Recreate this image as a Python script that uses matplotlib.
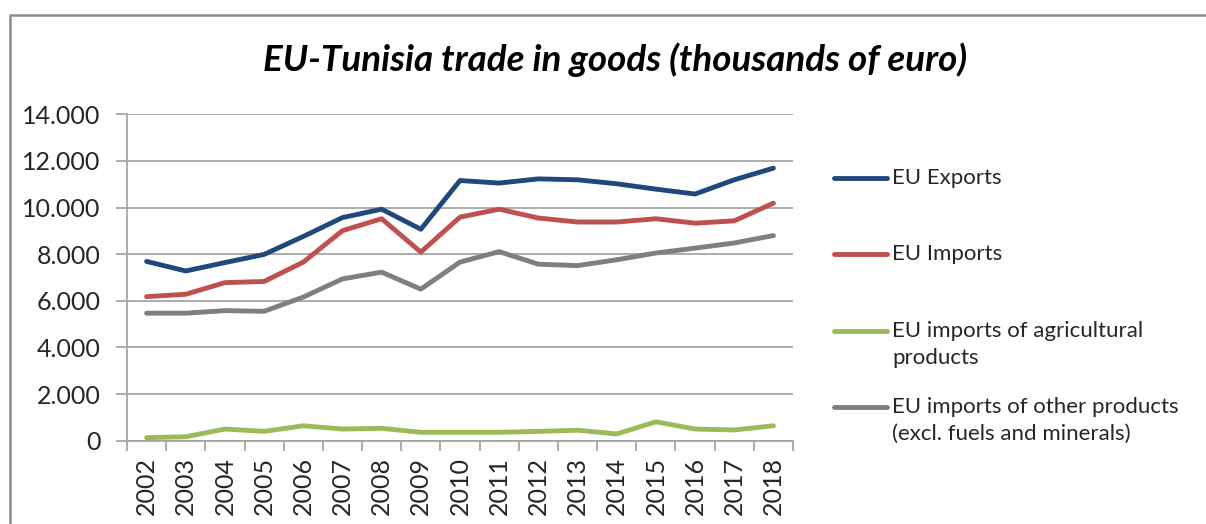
import matplotlib
matplotlib.use("Agg")
import matplotlib.pyplot as plt
from matplotlib.lines import Line2D
import numpy as np

years = [str(y) for y in range(2002, 2019)]
eu_exports = [7690, 7280, 7640, 7990, 8760, 9570, 9930, 9070, 11160, 11050, 11230, 11190, 11020, 10790, 10580, 11190, 11690]
eu_imports = [6180, 6280, 6780, 6830, 7660, 9010, 9520, 8090, 9590, 9930, 9550, 9380, 9380, 9520, 9330, 9430, 10190]
eu_imports_agri = [130, 170, 500, 400, 640, 500, 530, 360, 360, 360, 400, 450, 290, 810, 500, 460, 640]
eu_imports_other = [5470, 5470, 5580, 5550, 6160, 6940, 7230, 6500, 7660, 8110, 7570, 7510, 7760, 8050, 8260, 8480, 8800]

series_labels = ["EU Exports", "EU Imports",
                 "EU imports of agricultural\nproducts",
                 "EU imports of other products\n(excl. fuels and minerals)"]
series_colors = ["#1F497D", "#C0504D", "#9BBB59", "#7F7F7F"]

yticks = [0, 2000, 4000, 6000, 8000, 10000, 12000, 14000]
ytick_labels = ["0", "2.000", "4.000", "6.000", "8.000", "10.000", "12.000", "14.000"]

title = "EU-Tunisia trade in goods (thousands of euro)"

W, H = 1206, 524
fig = plt.figure(figsize=(W / 100, H / 100), dpi=100)
text_color = "#262626"
grid_color = "#A6A6A6"
font = "Lato"

# outer border (top and left)
fig.add_artist(Line2D([10 / W, 10 / W, 1.0], [0.0, 1 - 15 / H, 1 - 15 / H],
                      transform=fig.transFigure, color="#8C8C8C", lw=1.8))

ax = fig.add_axes([127 / W, 1 - 440.7 / H, (793 - 127) / W, (440.7 - 114.3) / H])
x = np.arange(len(years))
all_series = [eu_exports, eu_imports, eu_imports_agri, eu_imports_other]
for vals, col in zip(all_series, series_colors):
    ax.plot(x, vals, color=col, lw=3.5, solid_capstyle="round", solid_joinstyle="round", zorder=3)

ax.set_xlim(-0.5, len(years) - 0.5)
ax.set_ylim(0, 14000)
ax.set_yticks(yticks)
ax.set_yticklabels(ytick_labels, fontsize=18, color=text_color, family=font)
ax.set_xticks(x)
ax.set_xticklabels(years, rotation=90, fontsize=18, color=text_color, family=font)
ax.set_xticks(np.arange(-0.5, len(years), 1.0), minor=True)
ax.tick_params(axis="x", which="major", length=0, pad=12)
ax.tick_params(axis="x", which="minor", length=7, width=1.3, color=grid_color)
ax.tick_params(axis="y", which="major", length=8, width=1.3, color=grid_color, pad=11)
ax.grid(axis="y", color=grid_color, lw=1.3, zorder=1)
for s in ["top", "right"]:
    ax.spines[s].set_visible(False)
for s in ["left", "bottom"]:
    ax.spines[s].set_color(grid_color)
    ax.spines[s].set_linewidth(1.3)
ax.set_axisbelow(True)

fig.text(615 / W, 1 - 60 / H, title, ha="center", va="center", fontsize=26.5,
         fontweight="bold", fontstyle="italic", family=font, color="black")

# legend (manual, handle aligned with first text line)
leg_y = [178, 254, 331, 407]
for lab, col, yy in zip(series_labels, series_colors, leg_y):
    fig.add_artist(Line2D([834 / W, 887 / W], [1 - yy / H, 1 - yy / H], transform=fig.transFigure,
                          color=col, lw=3.5, solid_capstyle="round"))
    fig.text(892 / W, 1 - (yy - 10) / H, lab, ha="left", va="top", fontsize=16,
             family=font, color=text_color, linespacing=1.45)

fig.savefig("out.png", dpi=100)
